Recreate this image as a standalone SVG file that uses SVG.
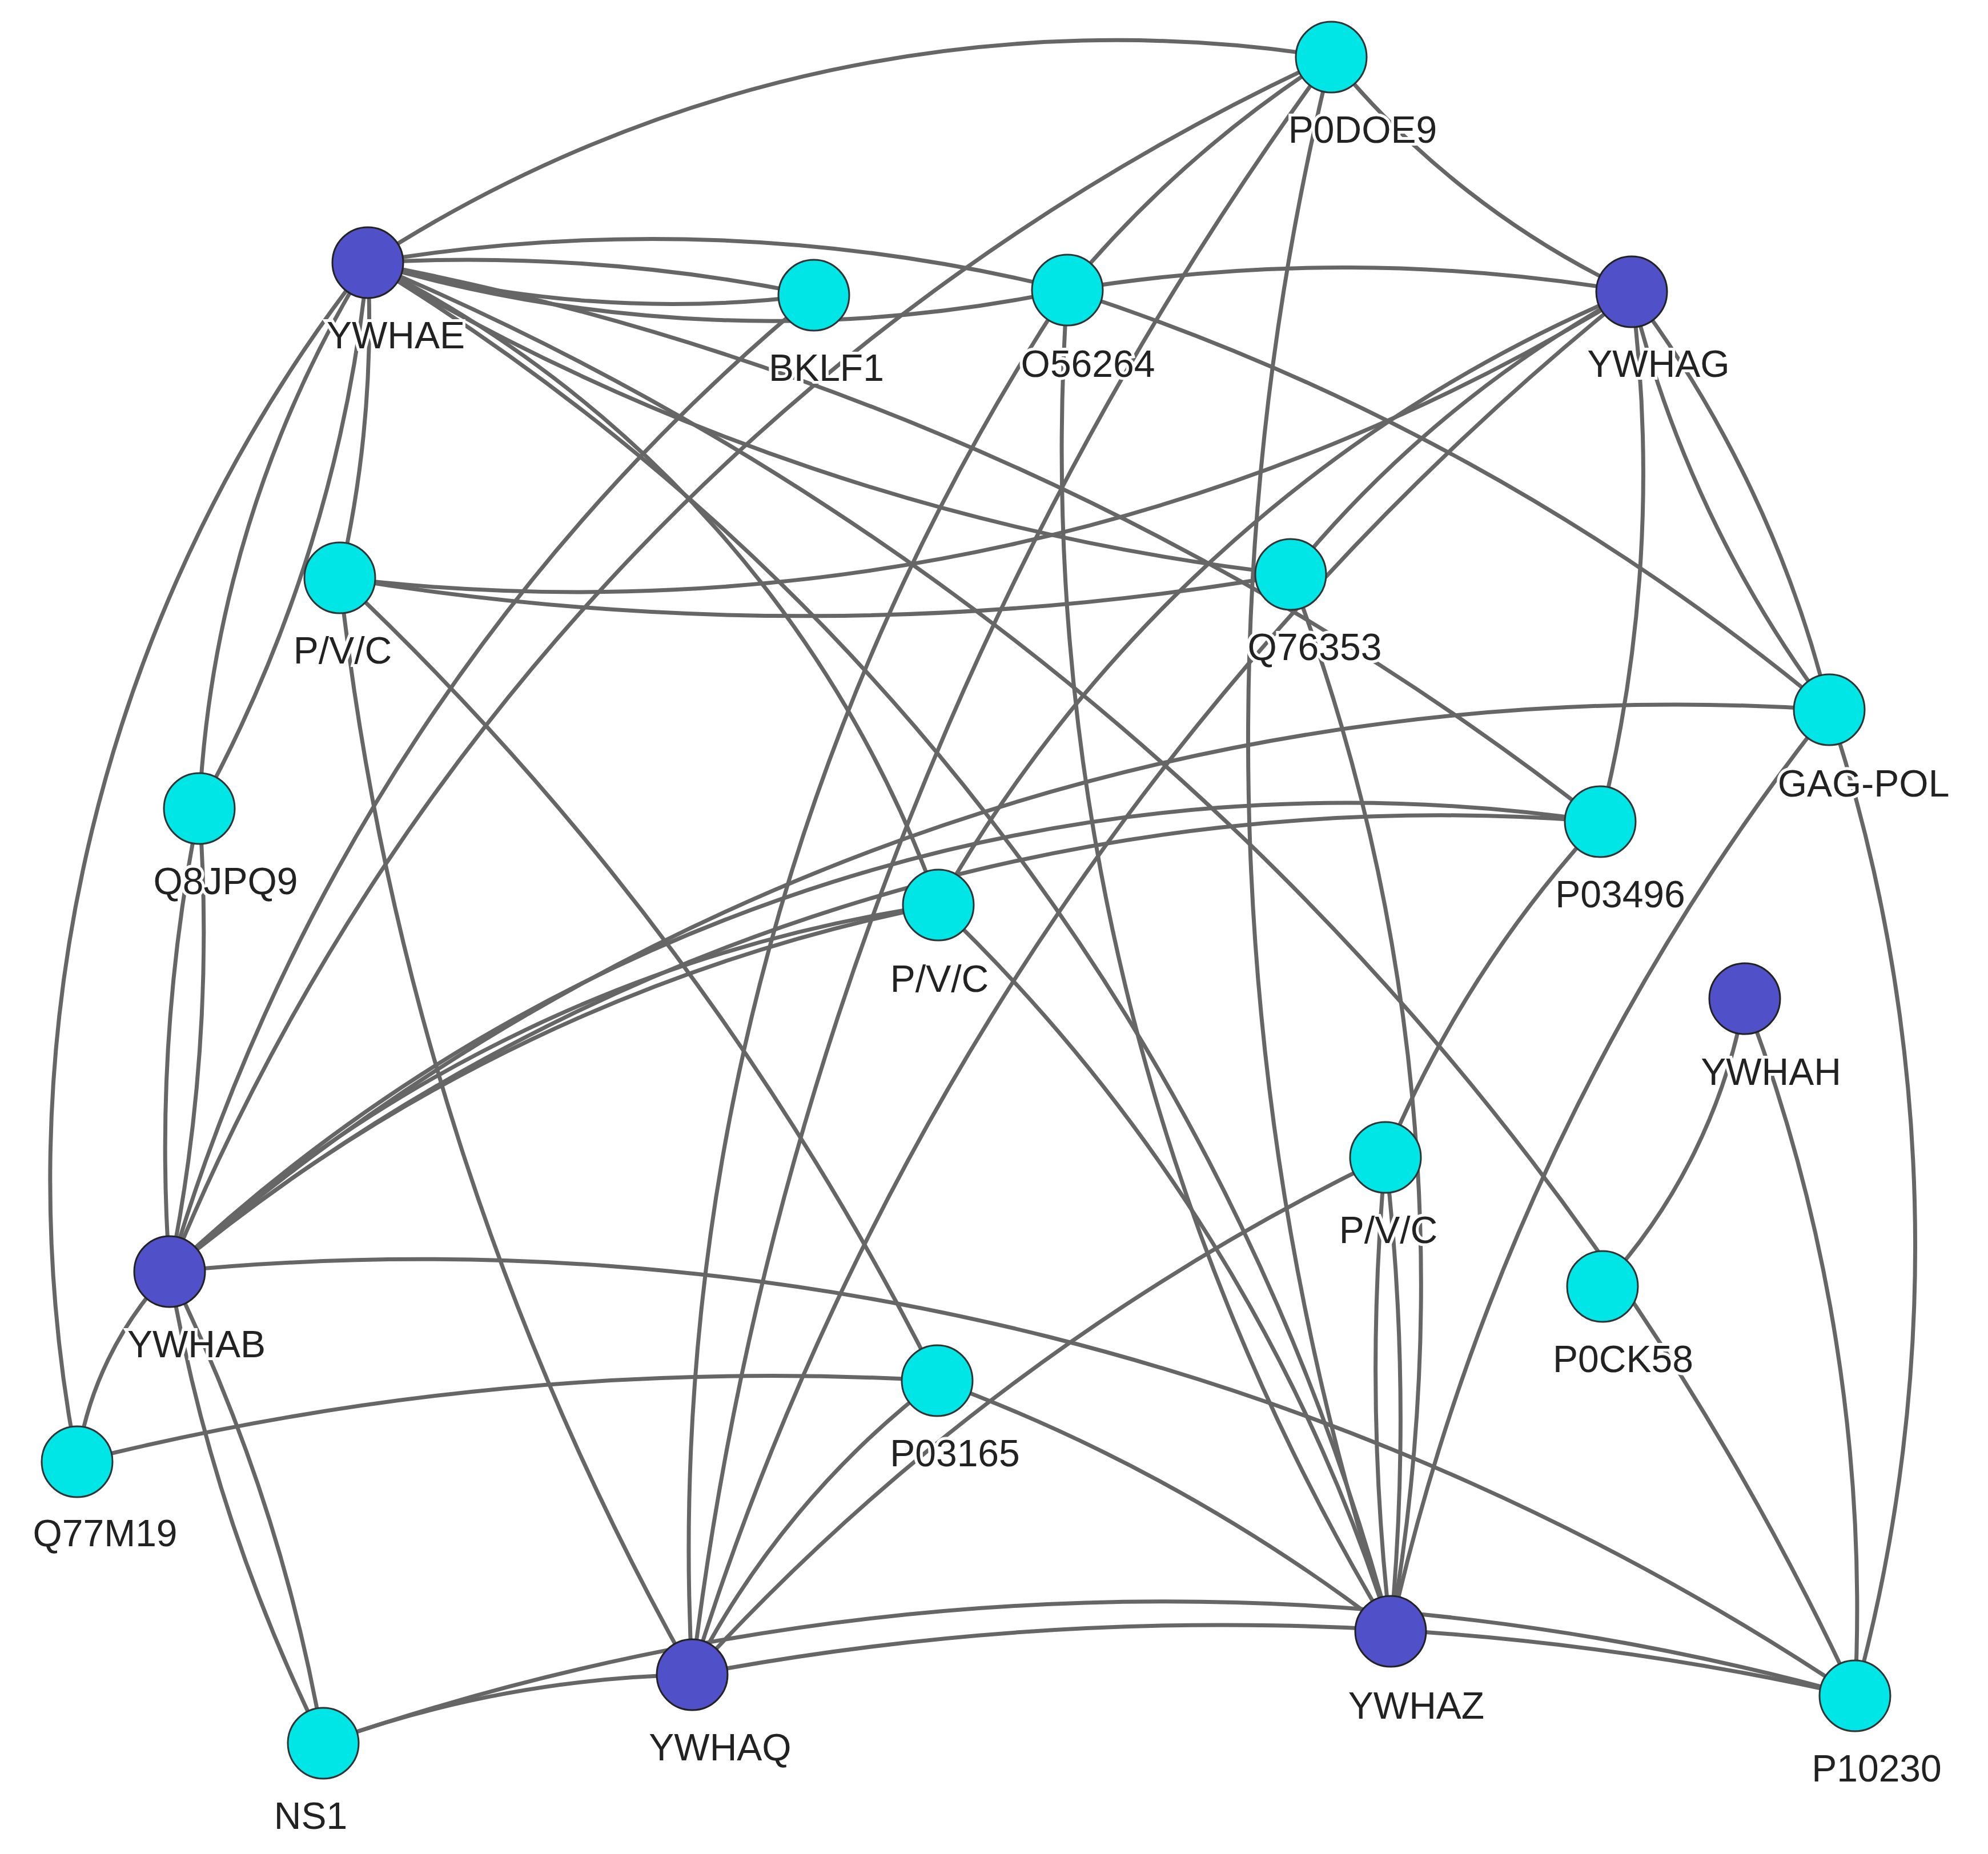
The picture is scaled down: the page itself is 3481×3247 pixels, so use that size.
<svg xmlns="http://www.w3.org/2000/svg" width="3481" height="3247" viewBox="0 0 3481 3247">
<style>
.e{fill:none;stroke:#666;stroke-width:7}
.c{fill:#00e5e5;stroke:#333;stroke-width:3}
.d{fill:#5050c8;stroke:#222;stroke-width:3}
text{font-family:"Liberation Sans",Arial,sans-serif;font-size:66px;fill:#222;text-anchor:middle;paint-order:stroke;stroke:#fff;stroke-width:10px}
</style>
<rect width="3481" height="3247" fill="#fff"/>
<g id="edges">
<path class="e" d="M644 460 A2400 2400 0 0 1 2331 100"/>
<path class="e" d="M644 460 A3000 3000 0 0 1 1425 517"/>
<path class="e" d="M644 460 A2000 2000 0 0 0 1425 517"/>
<path class="e" d="M644 460 A3000 3000 0 0 1 1869 508"/>
<path class="e" d="M644 460 A2500 2500 0 0 0 1869 508"/>
<path class="e" d="M644 460 A4000 4000 0 0 0 2260 1006"/>
<path class="e" d="M644 460 A5000 5000 0 0 1 2802 1439"/>
<path class="e" d="M644 460 A2000 2000 0 0 1 1643 1585"/>
<path class="e" d="M644 460 A5000 5000 0 0 1 3248 2970"/>
<path class="e" d="M644 460 A2000 2000 0 0 1 595 1012"/>
<path class="e" d="M644 460 A2000 2000 0 0 0 349 1416"/>
<path class="e" d="M644 460 A2500 2500 0 0 1 349 1416"/>
<path class="e" d="M644 460 A2600 2600 0 0 0 135 2560"/>
<path class="e" d="M349 1416 A3000 3000 0 0 0 297 2227"/>
<path class="e" d="M349 1416 A3000 3000 0 0 1 297 2227"/>
<path class="e" d="M2331 100 A4000 4000 0 0 0 297 2227"/>
<path class="e" d="M2331 100 A2000 2000 0 0 0 1869 508"/>
<path class="e" d="M2331 100 A1500 1500 0 0 0 2857 511"/>
<path class="e" d="M2331 100 A5000 5000 0 0 0 2435 2857"/>
<path class="e" d="M2331 100 A6000 6000 0 0 0 1212 2933"/>
<path class="e" d="M1869 508 A3000 3000 0 0 1 2857 511"/>
<path class="e" d="M1869 508 A4000 4000 0 0 1 3203 1243"/>
<path class="e" d="M1869 508 A4000 4000 0 0 0 1212 2933"/>
<path class="e" d="M1869 508 A4000 4000 0 0 0 2435 2857"/>
<path class="e" d="M1425 517 A3500 3500 0 0 0 297 2227"/>
<path class="e" d="M2857 511 A3500 3500 0 0 1 595 1012"/>
<path class="e" d="M2857 511 A2000 2000 0 0 0 2260 1006"/>
<path class="e" d="M2857 511 A2500 2500 0 0 0 1643 1585"/>
<path class="e" d="M2857 511 A2500 2500 0 0 1 2802 1439"/>
<path class="e" d="M2857 511 A2000 2000 0 0 1 3203 1243"/>
<path class="e" d="M2857 511 A2000 2000 0 0 0 3203 1243"/>
<path class="e" d="M2857 511 A5000 5000 0 0 0 1212 2933"/>
<path class="e" d="M2260 1006 A5000 5000 0 0 1 595 1012"/>
<path class="e" d="M2260 1006 A3500 3500 0 0 1 2435 2857"/>
<path class="e" d="M3203 1243 A4000 4000 0 0 0 297 2227"/>
<path class="e" d="M3203 1243 A4000 4000 0 0 0 2435 2857"/>
<path class="e" d="M3203 1243 A3000 3000 0 0 1 3248 2970"/>
<path class="e" d="M2802 1439 A3000 3000 0 0 0 297 2227"/>
<path class="e" d="M2802 1439 A3500 3500 0 0 0 297 2227"/>
<path class="e" d="M2802 1439 A2000 2000 0 0 0 2426 2027"/>
<path class="e" d="M1643 1585 A2500 2500 0 0 0 297 2227"/>
<path class="e" d="M1643 1585 A3000 3000 0 0 1 2435 2857"/>
<path class="e" d="M1643 1585 A3000 3000 0 0 0 297 2227"/>
<path class="e" d="M2426 2027 A4000 4000 0 0 0 1212 2933"/>
<path class="e" d="M2426 2027 A4000 4000 0 0 0 2435 2857"/>
<path class="e" d="M2426 2027 A4000 4000 0 0 1 2435 2857"/>
<path class="e" d="M3055 1749 A1000 1000 0 0 1 2806 2253"/>
<path class="e" d="M3055 1749 A3000 3000 0 0 1 3248 2970"/>
<path class="e" d="M297 2227 A600 600 0 0 0 135 2560"/>
<path class="e" d="M297 2227 A3000 3000 0 0 0 566 3053"/>
<path class="e" d="M297 2227 A3000 3000 0 0 1 566 3053"/>
<path class="e" d="M297 2227 A4500 4500 0 0 1 3248 2970"/>
<path class="e" d="M135 2560 A5000 5000 0 0 1 1641 2418"/>
<path class="e" d="M1641 2418 A3000 3000 0 0 1 2435 2857"/>
<path class="e" d="M1641 2418 A1500 1500 0 0 0 1212 2933"/>
<path class="e" d="M1641 2418 A5000 5000 0 0 0 595 1012"/>
<path class="e" d="M595 1012 A5000 5000 0 0 0 1212 2933"/>
<path class="e" d="M566 3053 A2000 2000 0 0 1 1212 2933"/>
<path class="e" d="M566 3053 A4500 4500 0 0 1 3248 2970"/>
<path class="e" d="M1212 2933 A5000 5000 0 0 1 3248 2970"/>
<path class="e" d="M644 460 A4000 4000 0 0 1 2435 2857"/>
</g>
<g id="n-P0DOE9"><circle class="c" cx="2331" cy="100" r="62"/><text x="2386" y="250">P0DOE9</text></g>
<g id="n-YWHAE"><circle class="d" cx="644" cy="460" r="62"/><text x="693" y="610">YWHAE</text></g>
<g id="n-BKLF1"><circle class="c" cx="1425" cy="517" r="62"/><text x="1447" y="667">BKLF1</text></g>
<g id="n-O56264"><circle class="c" cx="1869" cy="508" r="62"/><text x="1905" y="660">O56264</text></g>
<g id="n-YWHAG"><circle class="d" cx="2857" cy="511" r="62"/><text x="2904" y="660">YWHAG</text></g>
<g id="n-PVC1"><circle class="c" cx="595" cy="1012" r="62"/><text x="600" y="1162">P/V/C</text></g>
<g id="n-Q76353"><circle class="c" cx="2260" cy="1006" r="62"/><text x="2302" y="1156">Q76353</text></g>
<g id="n-GAGPOL"><circle class="c" cx="3203" cy="1243" r="62"/><text x="3263" y="1395">GAG-POL</text></g>
<g id="n-Q8JPQ9"><circle class="c" cx="349" cy="1416" r="62"/><text x="395" y="1566">Q8JPQ9</text></g>
<g id="n-P03496"><circle class="c" cx="2802" cy="1439" r="62"/><text x="2837" y="1589">P03496</text></g>
<g id="n-PVC2"><circle class="c" cx="1643" cy="1585" r="62"/><text x="1645" y="1737">P/V/C</text></g>
<g id="n-YWHAH"><circle class="d" cx="3055" cy="1749" r="62"/><text x="3101" y="1900">YWHAH</text></g>
<g id="n-PVC3"><circle class="c" cx="2426" cy="2027" r="62"/><text x="2431" y="2177">P/V/C</text></g>
<g id="n-YWHAB"><circle class="d" cx="297" cy="2227" r="62"/><text x="344" y="2377">YWHAB</text></g>
<g id="n-P0CK58"><circle class="c" cx="2806" cy="2253" r="62"/><text x="2842" y="2403">P0CK58</text></g>
<g id="n-P03165"><circle class="c" cx="1641" cy="2418" r="62"/><text x="1672" y="2568">P03165</text></g>
<g id="n-Q77M19"><circle class="c" cx="135" cy="2560" r="62"/><text x="184" y="2708">Q77M19</text></g>
<g id="n-YWHAZ"><circle class="d" cx="2435" cy="2857" r="62"/><text x="2480" y="3010">YWHAZ</text></g>
<g id="n-YWHAQ"><circle class="d" cx="1212" cy="2933" r="62"/><text x="1261" y="3083">YWHAQ</text></g>
<g id="n-P10230"><circle class="c" cx="3248" cy="2970" r="62"/><text x="3286" y="3120">P10230</text></g>
<g id="n-NS1"><circle class="c" cx="566" cy="3053" r="62"/><text x="544" y="3203">NS1</text></g>
</svg>
